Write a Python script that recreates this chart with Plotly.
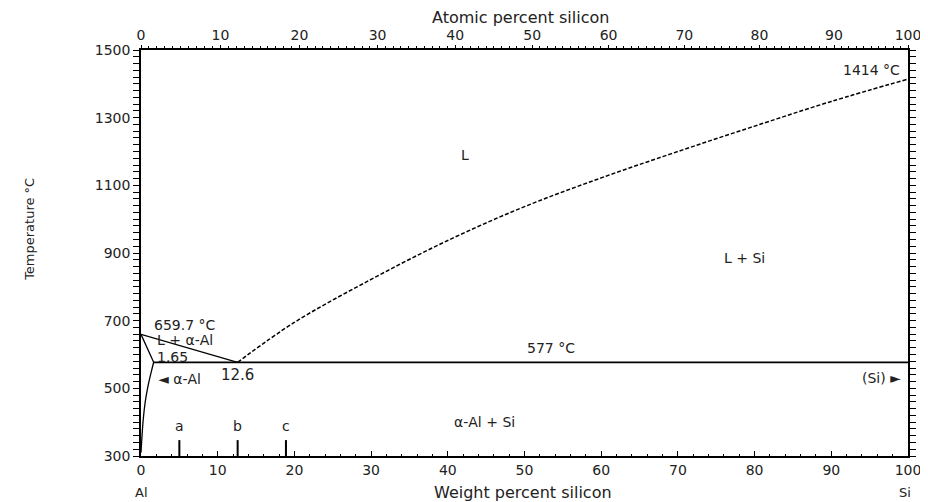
import plotly.graph_objects as go

# ---- data ----
liq_si_wt = [12.6, 20, 30, 40, 50, 60, 70, 80, 90, 100]
liq_si_T = [577, 695, 822, 937, 1037, 1122, 1200, 1275, 1348, 1414]

liq_al_wt = [0, 12.6]
liq_al_T = [659.7, 577]

solidus_wt = [0, 1.65]
solidus_T = [659.7, 577]

solvus_wt = [1.65, 1.3, 0.9, 0.55, 0.3, 0.12, 0.0]
solvus_T = [577, 545, 505, 460, 410, 355, 310]

eutectic_wt = [1.65, 100]
eutectic_T = [577, 577]

alloy_names = ["a", "b", "c"]
alloy_wt = [5, 12.6, 18.9]

bottom_ticks = [0, 10, 20, 30, 40, 50, 60, 70, 80, 90, 100]
top_ticks_at = [0, 10, 20, 30, 40, 50, 60, 70, 80, 90, 100]
y_ticks = [300, 500, 700, 900, 1100, 1300, 1500]

M_AL, M_SI = 26.982, 28.086


def at_to_wt(a):
    return 100 * a * M_SI / (a * M_SI + (100 - a) * M_AL)


FONT = "DejaVu Sans, Verdana, sans-serif"
INK = "#222"
fig = go.Figure()
line = dict(color="black", width=1.3)

fig.add_trace(go.Scatter(x=liq_si_wt, y=liq_si_T, mode="lines", line_shape="spline",
                         line=dict(color="black", width=1.5, dash="4px,2px")))
fig.add_trace(go.Scatter(x=liq_al_wt, y=liq_al_T, mode="lines", line=line))
fig.add_trace(go.Scatter(x=solidus_wt, y=solidus_T, mode="lines", line=line))
fig.add_trace(go.Scatter(x=solvus_wt, y=solvus_T, mode="lines", line_shape="spline", line=line))
fig.add_trace(go.Scatter(x=eutectic_wt, y=eutectic_T, mode="lines",
                         line=dict(color="black", width=1.8)))
for n, w in zip(alloy_names, alloy_wt):
    fig.add_trace(go.Scatter(x=[w, w], y=[300, 347], mode="lines", line=dict(color="black", width=2)))
    fig.add_annotation(x=w, y=388, text=n, showarrow=False,
                       font=dict(family=FONT, size=14, color=INK))
# invisible trace for the top axis
fig.add_trace(go.Scatter(x=[0, 100], y=[300, 300], xaxis="x2", mode="lines",
                         line=dict(width=0), hoverinfo="skip"))

txt = dict(showarrow=False, font=dict(family=FONT, size=14, color=INK))
fig.add_annotation(x=1.4, y=687, text="659.7 °C", xanchor="left", **txt)
fig.add_annotation(x=1.8, y=643, text="L + α-Al", xanchor="left", **txt)
fig.add_annotation(x=1.8, y=593, text="1.65", xanchor="left", **txt)
fig.add_annotation(x=12.6, y=539, text="12.6", showarrow=False,
                   font=dict(family=FONT, size=15, color=INK))
fig.add_annotation(x=2.0, y=527, text="◄ α-Al", xanchor="left", **txt)
fig.add_annotation(x=53.5, y=620, text="577 °C", **txt)
fig.add_annotation(x=99.3, y=530, text="(Si) ►", xanchor="right", **txt)
fig.add_annotation(x=42.2, y=1190, text="L", **txt)
fig.add_annotation(x=78.7, y=885, text="L + Si", **txt)
fig.add_annotation(x=99.2, y=1441, text="1414 °C", xanchor="right", **txt)
fig.add_annotation(x=44.8, y=400, text="α-Al + Si", **txt)

paper = dict(xref="paper", yref="paper", showarrow=False, xanchor="center", yanchor="middle")
fig.add_annotation(x=0, y=-0.089, text="Al", font=dict(family=FONT, size=13, color=INK), **paper)
fig.add_annotation(x=0.996, y=-0.091, text="Si", font=dict(family=FONT, size=13, color=INK), **paper)
fig.add_annotation(x=0.498, y=-0.089, text="Weight percent silicon",
                   font=dict(family=FONT, size=16, color=INK), **paper)
fig.add_annotation(x=0.495, y=1.079, text="Atomic percent silicon",
                   font=dict(family=FONT, size=16, color=INK), **paper)
fig.add_annotation(x=-0.1447, y=0.557, text="Temperature °C", textangle=-90,
                   font=dict(family=FONT, size=13, color=INK), **paper)

axis_font = dict(family=FONT, size=14, color=INK)
fig.update_layout(
    width=920, height=494,
    margin=dict(l=133, r=20, t=42, b=46),
    paper_bgcolor="white", plot_bgcolor="white",
    showlegend=False,
    xaxis=dict(range=[0, 100], tickvals=bottom_ticks, ticks="inside", ticklen=5,
               tickcolor="black", showline=True, linecolor="black", linewidth=1.5,
               showgrid=False, zeroline=False, tickfont=axis_font, automargin=False,
               minor=dict(dtick=2, ticks="inside", ticklen=2, tickcolor="black")),
    xaxis2=dict(range=[0, 100], overlaying="x", side="top", anchor="y",
                tickvals=[at_to_wt(a) for a in top_ticks_at],
                ticktext=[str(a) for a in top_ticks_at],
                ticks="outside", ticklen=3, tickcolor="black", showline=True,
                linecolor="black", linewidth=1.5, showgrid=False, zeroline=False,
                tickfont=axis_font, automargin=False,
                minor=dict(tickvals=[at_to_wt(a) for a in range(0, 101)], ticks="outside",
                           ticklen=2, tickcolor="black")),
    yaxis=dict(range=[300, 1500], tickvals=y_ticks, ticks="outside", ticklen=6,
               tickcolor="black", showline=True, linecolor="black", linewidth=1.5,
               mirror="allticks", showgrid=False, zeroline=False, tickfont=axis_font,
               automargin=False,
               minor=dict(dtick=20, ticks="outside", ticklen=3, tickcolor="black")),
)

fig.write_html("out.html")
